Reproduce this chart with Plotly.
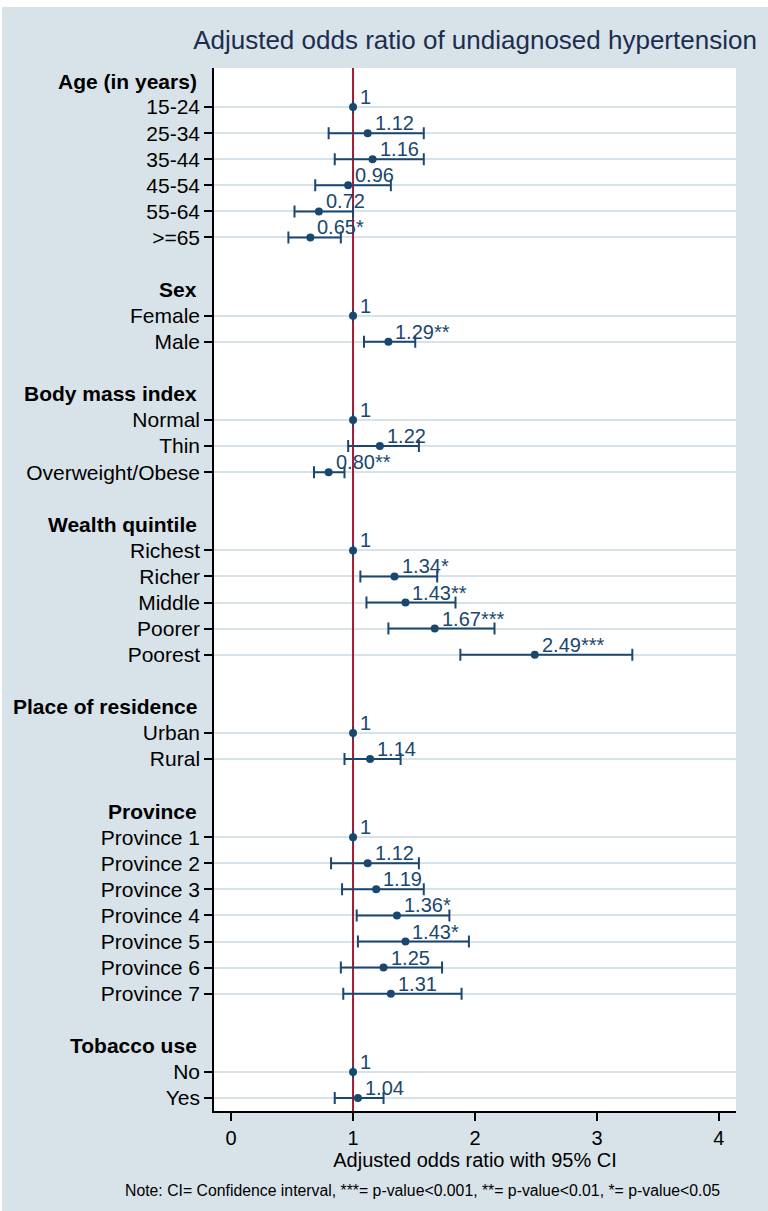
import plotly.graph_objects as go

# group headers and their categories
age_labels = ["15-24", "25-34", "35-44", "45-54", "55-64", ">=65"]
age_or = [1, 1.12, 1.16, 0.96, 0.72, 0.65]
age_lo = [None, 0.80, 0.85, 0.69, 0.52, 0.47]
age_hi = [None, 1.58, 1.58, 1.31, 1.00, 0.90]
age_sig = ["", "", "", "", "", "*"]

sex_labels = ["Female", "Male"]
sex_or = [1, 1.29]
sex_lo = [None, 1.09]
sex_hi = [None, 1.51]
sex_sig = ["", "**"]

bmi_labels = ["Normal", "Thin", "Overweight/Obese"]
bmi_or = [1, 1.22, 0.80]
bmi_lo = [None, 0.96, 0.68]
bmi_hi = [None, 1.54, 0.93]
bmi_sig = ["", "", "**"]

wealth_labels = ["Richest", "Richer", "Middle", "Poorer", "Poorest"]
wealth_or = [1, 1.34, 1.43, 1.67, 2.49]
wealth_lo = [None, 1.06, 1.11, 1.29, 1.88]
wealth_hi = [None, 1.69, 1.84, 2.16, 3.29]
wealth_sig = ["", "*", "**", "***", "***"]

res_labels = ["Urban", "Rural"]
res_or = [1, 1.14]
res_lo = [None, 0.93]
res_hi = [None, 1.39]
res_sig = ["", ""]

prov_labels = ["Province 1", "Province 2", "Province 3", "Province 4",
               "Province 5", "Province 6", "Province 7"]
prov_or = [1, 1.12, 1.19, 1.36, 1.43, 1.25, 1.31]
prov_lo = [None, 0.82, 0.91, 1.03, 1.04, 0.90, 0.92]
prov_hi = [None, 1.54, 1.58, 1.79, 1.95, 1.73, 1.89]
prov_sig = ["", "", "", "*", "*", "", ""]

tob_labels = ["No", "Yes"]
tob_or = [1, 1.04]
tob_lo = [None, 0.85]
tob_hi = [None, 1.25]
tob_sig = ["", ""]

groups = [
    ("Age (in years)", age_labels, age_or, age_lo, age_hi, age_sig),
    ("Sex", sex_labels, sex_or, sex_lo, sex_hi, sex_sig),
    ("Body mass index", bmi_labels, bmi_or, bmi_lo, bmi_hi, bmi_sig),
    ("Wealth quintile", wealth_labels, wealth_or, wealth_lo, wealth_hi, wealth_sig),
    ("Place of residence", res_labels, res_or, res_lo, res_hi, res_sig),
    ("Province", prov_labels, prov_or, prov_lo, prov_hi, prov_sig),
    ("Tobacco use", tob_labels, tob_or, tob_lo, tob_hi, tob_sig),
]
ref_value = 1

NAVY = "#1a476f"
BG = "#d8e3e9"
FONT = "Liberation Sans, Arial, sans-serif"

# lay out rows: header, items, blank line between groups
ys, xs, texts, plus, minus = [], [], [], [], []
tickvals, ticktext, headers = [], [], []
row = 0
for name, labels, ors, los, his, sigs in groups:
    headers.append((name, row))
    row += 1
    for lab, o, lo, hi, s in zip(labels, ors, los, his, sigs):
        tickvals.append(row)
        ticktext.append(lab)
        ys.append(row)
        xs.append(o)
        texts.append(f"{o:.2f}{s}" if lo is not None else "1")
        plus.append(None if hi is None else hi - o)
        minus.append(None if lo is None else o - lo)
        row += 1
    row += 1
last_row = row - 2

fig = go.Figure()
# reference line at OR = 1
fig.add_trace(go.Scatter(
    x=[ref_value, ref_value], y=[-0.5, last_row + 0.5],
    mode="lines", line=dict(color="#a01b33", width=2),
    showlegend=False, hoverinfo="skip",
))
fig.add_trace(go.Scatter(
    x=xs, y=ys,
    mode="markers",
    marker=dict(color=NAVY, size=8),
    error_x=dict(type="data", symmetric=False, array=plus, arrayminus=minus,
                 color=NAVY, thickness=2, width=6),
    showlegend=False,
))

for x, y, t in zip(xs, ys, texts):
    fig.add_annotation(x=x, y=y, text=t, showarrow=False,
                       xanchor="left", yanchor="middle", xshift=5, yshift=10,
                       font=dict(family=FONT, size=20, color=NAVY))

for name, r in headers:
    fig.add_annotation(x=0, xref="paper", y=r, yref="y", text=f"<b>{name}</b>",
                       showarrow=False, xanchor="right", xshift=-15,
                       font=dict(family=FONT, size=21, color="black"))

# thin white strips at the outer edge of the graph region
fig.add_shape(type="rect", xref="paper", yref="paper", x0=-0.5, x1=1.2,
              y0=1.0585, y1=1.1, fillcolor="white", line_width=0, layer="below")
fig.add_shape(type="rect", xref="paper", yref="paper", x0=-0.5, x1=-0.4062,
              y0=-0.2, y1=1.1, fillcolor="white", line_width=0, layer="below")

fig.add_annotation(x=0.40, xref="paper", y=-(1190 - 1111) / 1043, yref="paper",
                   yanchor="middle",
                   text="Note: CI= Confidence interval, ***= p-value<0.001, **= p-value<0.01, *= p-value<0.05",
                   showarrow=False, font=dict(family=FONT, size=15.8, color="black"))

fig.update_layout(
    width=768, height=1211,
    margin=dict(l=214, r=32, t=68, b=100),
    paper_bgcolor=BG,
    plot_bgcolor="white",
    font=dict(family=FONT, size=20, color="black"),
    title=dict(text="Adjusted odds ratio of undiagnosed hypertension",
               x=0.5, xref="paper", xanchor="center",
               y=1 - 40 / 1211, yref="container", yanchor="middle",
               font=dict(family=FONT, size=26, color="#1c2d4f")),
    xaxis=dict(range=[-0.14, 4.14], tickvals=[0, 1, 2, 3, 4],
               ticks="outside", ticklen=8, tickwidth=1.5, tickcolor="black",
               showline=True, linecolor="black", linewidth=1.5,
               showgrid=False, zeroline=False,
               tickfont=dict(size=20, color="black"),
               title=dict(text="Adjusted odds ratio with 95% CI", standoff=0,
                          font=dict(size=20, color="black"))),
    yaxis=dict(range=[last_row + 0.5, -0.5], tickvals=tickvals, ticktext=ticktext,
               ticks="outside", ticklen=8, tickwidth=1.5, tickcolor="black",
               showline=True, linecolor="black", linewidth=1.5,
               showgrid=True, gridcolor=BG, gridwidth=2, zeroline=False,
               tickfont=dict(size=21, color="black")),
)

fig.write_html("out.html", config={"displayModeBar": False},
               post_script="document.body.style.margin='0';")
